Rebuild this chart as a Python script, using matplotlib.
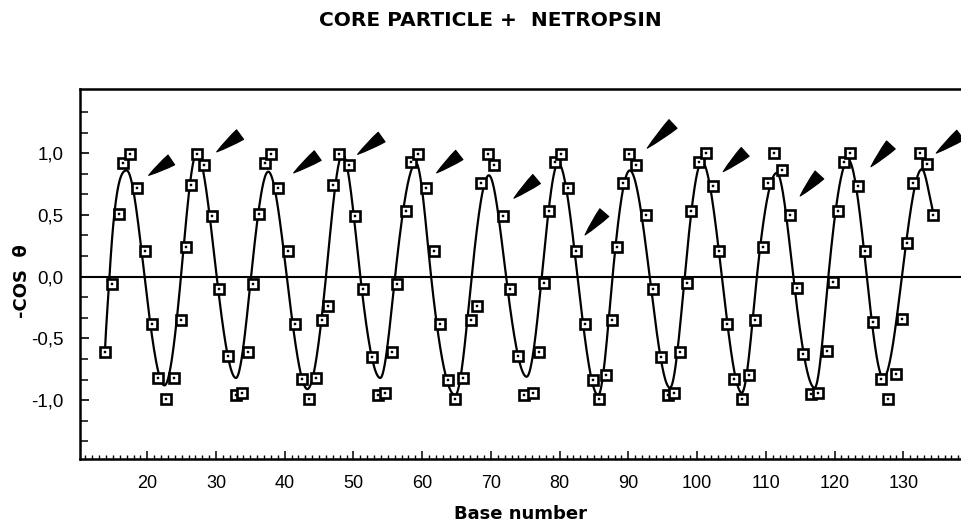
import numpy as np
import matplotlib
matplotlib.use("Agg")
import matplotlib.pyplot as plt
from matplotlib.ticker import FixedLocator, FuncFormatter

# ---- data ----
base_pos = [13.85, 14.91, 15.88, 16.51, 17.48, 18.50, 19.71, 20.68, 21.60, 22.72,
            23.93, 24.90, 25.59, 26.36, 27.23, 28.25, 29.37, 30.48, 31.79, 32.86,
            33.82, 34.70, 35.42, 36.30, 37.08, 37.95, 39.06, 40.43, 41.45, 42.55,
            43.57, 44.55, 45.38, 46.25, 46.98, 47.94, 49.30, 50.26, 51.43, 52.65,
            53.61, 54.58, 55.56, 56.37, 57.60, 58.37, 59.43, 60.55, 61.71, 62.59,
            63.79, 64.81, 65.89, 67.05, 67.93, 68.55, 69.61, 70.49, 71.71, 72.77,
            73.89, 74.81, 76.07, 76.99, 77.76, 78.49, 79.32, 80.19, 81.25, 82.33,
            83.68, 84.80, 85.76, 86.70, 87.66, 88.38, 89.17, 90.09, 91.06, 92.56,
            93.62, 94.70, 95.72, 96.63, 97.51, 98.48, 99.11, 100.32, 101.29, 102.26,
            103.23, 104.30, 105.36, 106.57, 107.59, 108.42, 109.63, 110.35, 111.23, 112.39,
            113.51, 114.49, 115.45, 116.57, 117.63, 118.85, 119.81, 120.54, 121.37, 122.24,
            123.36, 124.42, 125.63, 126.71, 127.81, 128.89, 129.76, 130.49, 131.45, 132.43,
            133.40, 134.36]
cos_vals = [-0.61, -0.06, 0.51, 0.92, 0.99, 0.72, 0.21, -0.38, -0.82, -0.99,
            -0.82, -0.35, 0.24, 0.74, 0.99, 0.90, 0.49, -0.10, -0.64, -0.96,
            -0.94, -0.61, -0.06, 0.51, 0.92, 0.99, 0.72, 0.21, -0.38, -0.83,
            -0.99, -0.82, -0.35, -0.24, 0.74, 0.99, 0.90, 0.49, -0.10, -0.65,
            -0.96, -0.94, -0.61, -0.06, 0.53, 0.93, 0.99, 0.72, 0.21, -0.38,
            -0.84, -0.99, -0.82, -0.35, -0.24, 0.76, 0.99, 0.90, 0.49, -0.10,
            -0.64, -0.96, -0.94, -0.61, -0.05, 0.53, 0.93, 0.99, 0.72, 0.21,
            -0.38, -0.84, -0.99, -0.80, -0.35, 0.24, 0.76, 0.99, 0.90, 0.50,
            -0.10, -0.65, -0.96, -0.94, -0.61, -0.05, 0.53, 0.93, 1.00, 0.73,
            0.21, -0.38, -0.83, -0.99, -0.80, -0.35, 0.24, 0.76, 1.00, 0.86,
            0.50, -0.09, -0.63, -0.95, -0.94, -0.60, -0.04, 0.53, 0.93, 1.00,
            0.73, 0.21, -0.37, -0.83, -0.99, -0.79, -0.34, 0.27, 0.76, 1.00,
            0.91, 0.50]

# fitted curve: extrema and zero crossings
curve_x = [13.85, 14.5, 17.0, 19.6, 22.5, 24.9, 27.2, 30.1, 32.9, 35.1,
           37.6, 40.3, 43.3, 46.0, 48.4, 51.0, 53.9, 56.05, 59.1, 61.3,
           64.8, 67.2, 69.7, 72.2, 75.2, 77.4, 79.8, 82.6, 85.6, 87.7,
           90.2, 93.1, 96.05, 98.2, 100.7, 103.6, 106.5, 108.7, 111.6, 114.0,
           117.1, 119.1, 122.0, 124.7, 127.1, 129.8, 132.7, 134.4]
curve_y = [-0.59, 0.0, 0.86, 0.0, -0.88, 0.0, 1.00, 0.0, -0.82, 0.0,
           0.85, 0.0, -0.91, 0.0, 0.99, 0.0, -0.82, 0.0, 0.92, 0.0,
           -0.96, 0.0, 0.82, 0.0, -0.81, 0.0, 0.92, 0.0, -0.96, 0.0,
           0.86, 0.0, -0.90, 0.0, 0.93, 0.0, -0.94, 0.0, 0.84, 0.0,
           -0.90, 0.0, 0.945, 0.0, -0.82, 0.0, 0.87, 0.51]

# wedge arrows (tip and broad end)
arrow_tip_x = [20.2, 30.1, 41.3, 50.6, 62.1, 73.35, 83.7, 92.75, 103.8, 115.0, 125.3, 134.8]
arrow_tip_y = [0.82, 1.01, 0.84, 0.99, 0.84, 0.635, 0.338, 1.04, 0.85, 0.653, 0.89, 1.00]
arrow_end_x = [23.5, 33.5, 44.8, 54.1, 65.4, 76.65, 86.5, 96.5, 107.0, 117.8, 128.2, 138.3]
arrow_end_y = [0.945, 1.15, 0.98, 1.13, 0.985, 0.79, 0.518, 1.236, 1.01, 0.823, 1.066, 1.147]

x_major_ticks = list(range(20, 131, 10))
y_major_ticks = [-1.0, -0.5, 0.0, 0.5, 1.0]

title_text = "CORE PARTICLE +  NETROPSIN"
x_label = "Base number"
y_label = "-COS  \u03b8"


def smooth_curve(xk, yk, n=40):
    xk = np.asarray(xk, float)
    yk = np.asarray(yk, float)
    sec = np.diff(yk) / np.diff(xk)
    m = np.zeros_like(yk)
    for i in range(len(yk)):
        if i == 0:
            m[i] = sec[0] * 1.3
        elif i == len(yk) - 1:
            m[i] = sec[-1] * 0.9
        elif sec[i - 1] * sec[i] <= 0:
            m[i] = 0.0
        else:
            m[i] = 1.5 * 0.5 * (sec[i - 1] + sec[i])
    xs, ys = [], []
    for i in range(len(xk) - 1):
        h = xk[i + 1] - xk[i]
        t = np.linspace(0, 1, n, endpoint=(i == len(xk) - 2))
        h00 = 2 * t**3 - 3 * t**2 + 1
        h10 = t**3 - 2 * t**2 + t
        h01 = -2 * t**3 + 3 * t**2
        h11 = t**3 - t**2
        xs.append(xk[i] + t * h)
        ys.append(h00 * yk[i] + h10 * h * m[i] + h01 * yk[i + 1] + h11 * h * m[i + 1])
    return np.concatenate(xs), np.concatenate(ys)


fig = plt.figure(figsize=(9.61, 5.23), dpi=100)
ax = fig.add_axes([80 / 961, 1 - 459 / 523, 1 - 80 / 961, (459 - 89) / 523])
ax.set_xlim(10.21, 138.4)
ax.set_ylim(-1.476, 1.519)

cx, cy = smooth_curve(curve_x, curve_y)
ax.plot(cx, cy, color="black", lw=1.6, zorder=2)
ax.axhline(0.0, color="black", lw=1.5, zorder=1)

ax.plot(base_pos, cos_vals, linestyle="none", marker="s", markersize=6.6,
        markerfacecolor="white", markeredgecolor="black", markeredgewidth=1.9, zorder=3)
ax.plot(base_pos, cos_vals, linestyle="none", marker="s", markersize=1.6,
        markerfacecolor="black", markeredgecolor="black", markeredgewidth=0.3, zorder=4)

for tx, ty, ex, ey in zip(arrow_tip_x, arrow_tip_y, arrow_end_x, arrow_end_y):
    ax.annotate("", xy=(tx, ty), xytext=(ex, ey), annotation_clip=False,
                arrowprops=dict(arrowstyle="wedge,tail_width=0.85,shrink_factor=0.6",
                                color="black", lw=0.8, shrinkA=0, shrinkB=0,
                                mutation_scale=10))

# spines
ax.spines["right"].set_visible(False)
for s in ["left", "bottom", "top"]:
    ax.spines[s].set_linewidth(1.8)

# ticks
ax.xaxis.set_major_locator(FixedLocator(x_major_ticks))
ax.xaxis.set_minor_locator(FixedLocator([v for v in range(11, 139) if v % 10 != 0]))
ax.yaxis.set_major_locator(FixedLocator(y_major_ticks))
ax.yaxis.set_minor_locator(FixedLocator([k / 6 for k in range(-8, 9) if k % 3 != 0]))
ax.yaxis.set_major_formatter(FuncFormatter(lambda v, p: f"{v:.1f}".replace(".", ",")))
ax.tick_params(axis="x", which="major", direction="in", length=5.5, width=1.1,
               pad=11.5, labelsize=13, top=False)
ax.tick_params(axis="x", which="minor", direction="in", length=3, width=1.0, top=False)
ax.tick_params(axis="y", which="major", direction="in", length=6.5, width=1.2,
               pad=12, labelsize=13.5, right=False)
ax.tick_params(axis="y", which="minor", direction="in", length=6, width=1.1, right=False)
for lab in ax.get_xticklabels() + ax.get_yticklabels():
    lab.set_fontfamily(["Liberation Sans", "DejaVu Sans"])

fig.text(490 / 961, 1 - 20 / 523, title_text, ha="center", va="center",
         fontsize=14.5, fontweight="bold", family=["DejaVu Sans"])
fig.text(520 / 961, 1 - 514 / 523, x_label, ha="center", va="center",
         fontsize=13, fontweight="bold", family=["DejaVu Sans"])
fig.text(22 / 961, 1 - 281 / 523, y_label, ha="center", va="center", rotation=90,
         fontsize=13, fontweight="bold", family=["DejaVu Sans"])

fig.savefig("out.png", dpi=100)
